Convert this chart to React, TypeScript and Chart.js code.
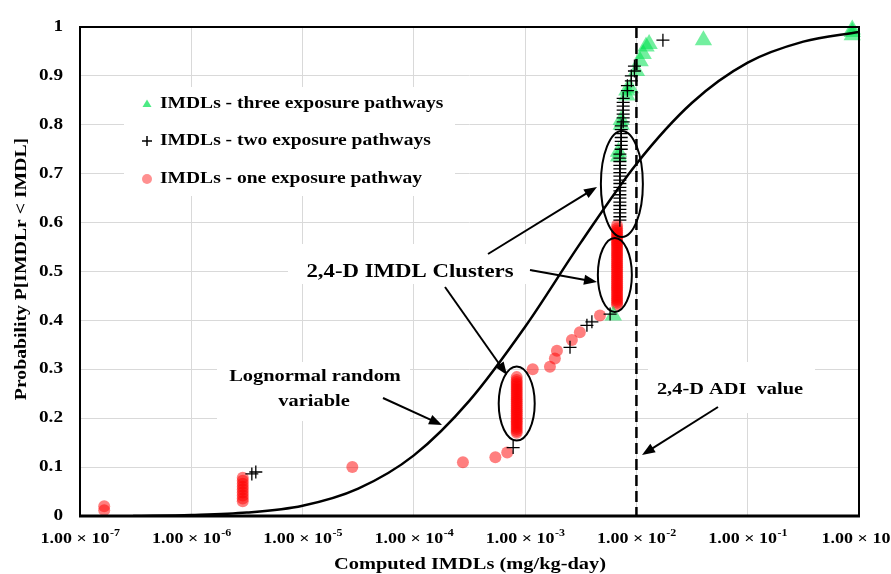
import React, { useEffect, useRef } from "react";
import { Chart, registerables } from "chart.js";
Chart.register(...registerables);

// ---- axis ticks ----
const xTickValues = [1e-7, 1e-6, 1e-5, 1e-4, 1e-3, 1e-2, 1e-1, 1];
const xTickExponents = ["-7", "-6", "-5", "-4", "-3", "-2", "-1", "0"];
const yTickValues = [0, 0.1, 0.2, 0.3, 0.4, 0.5, 0.6, 0.7, 0.8, 0.9, 1];
const yTickLabels = ["0", "0.1", "0.2", "0.3", "0.4", "0.5", "0.6", "0.7", "0.8", "0.9", "1"];

// ---- lognormal CDF curve ----
const curveX = [3e-7, 1e-6, 3.16e-6, 1e-5, 3.16e-5, 1e-4, 3.16e-4, 1e-3, 3.16e-3, 1e-2, 3.16e-2, 1e-1, 3.16e-1, 1];
const curveP = [0.0, 0.002, 0.007, 0.021, 0.056, 0.124, 0.236, 0.387, 0.559, 0.72, 0.845, 0.927, 0.97, 0.99];

// ---- IMDLs - one exposure pathway ----
const oneX = [
  1.65e-7, 1.65e-7,
  2.9e-6, 2.9e-6, 2.9e-6, 2.9e-6, 2.9e-6, 2.9e-6, 2.9e-6, 2.9e-6, 2.9e-6,
  2.8e-5, 2.76e-4, 5.4e-4, 6.9e-4,
  8.4e-4, 8.4e-4, 8.4e-4, 8.4e-4, 8.4e-4, 8.4e-4, 8.4e-4, 8.4e-4, 8.4e-4, 8.4e-4, 8.4e-4, 8.4e-4, 8.4e-4, 8.4e-4, 8.4e-4,
  8.4e-4, 8.4e-4, 8.4e-4, 8.4e-4, 8.4e-4, 8.4e-4, 8.4e-4, 8.4e-4, 8.4e-4, 8.4e-4, 8.4e-4, 8.4e-4, 8.4e-4, 8.4e-4,
  1.17e-3, 1.67e-3, 1.85e-3, 1.93e-3, 2.63e-3, 3.1e-3, 4.7e-3,
  6.7e-3, 6.7e-3, 6.7e-3, 6.7e-3, 6.7e-3, 6.7e-3, 6.7e-3, 6.7e-3, 6.7e-3, 6.7e-3, 6.7e-3,
  6.7e-3, 6.7e-3, 6.7e-3, 6.7e-3, 6.7e-3, 6.7e-3, 6.7e-3, 6.7e-3, 6.7e-3, 6.7e-3,
  6.7e-3, 6.7e-3, 6.7e-3, 6.7e-3, 6.7e-3, 6.7e-3, 6.7e-3, 6.7e-3, 6.7e-3, 6.7e-3,
  6.7e-3, 6.7e-3, 6.7e-3, 6.7e-3, 6.7e-3, 6.7e-3, 6.7e-3, 6.7e-3, 6.7e-3, 6.7e-3,
];
const oneP = [
  0.012, 0.02,
  0.03, 0.036, 0.042, 0.048, 0.054, 0.06, 0.066, 0.072, 0.078,
  0.1, 0.11, 0.12, 0.13,
  0.17, 0.174, 0.178, 0.182, 0.186, 0.19, 0.194, 0.198, 0.202, 0.206, 0.21, 0.214, 0.218, 0.222, 0.226,
  0.23, 0.234, 0.238, 0.242, 0.246, 0.25, 0.254, 0.258, 0.262, 0.266, 0.27, 0.274, 0.278, 0.284,
  0.3, 0.305, 0.322, 0.338, 0.36, 0.376, 0.41,
  0.432, 0.436, 0.44, 0.444, 0.448, 0.452, 0.456, 0.46, 0.464, 0.468, 0.472,
  0.476, 0.48, 0.484, 0.488, 0.492, 0.496, 0.5, 0.504, 0.508, 0.512,
  0.516, 0.52, 0.524, 0.528, 0.532, 0.536, 0.54, 0.544, 0.548, 0.552,
  0.556, 0.56, 0.564, 0.568, 0.572, 0.576, 0.58, 0.584, 0.588, 0.594,
];

// ---- IMDLs - two exposure pathways ----
const twoX = [
  3.5e-6, 3.8e-6, 7.8e-4, 2.53e-3, 3.59e-3, 3.98e-3, 5.8e-3,
  7.1e-3, 7.1e-3, 7.1e-3, 7.1e-3, 7.1e-3, 7.1e-3, 7.1e-3, 7.1e-3, 7.1e-3, 7.1e-3,
  7.1e-3, 7.1e-3, 7.1e-3, 7.1e-3, 7.1e-3, 7.1e-3, 7.1e-3, 7.1e-3, 7.1e-3,
  7.3e-3, 7.3e-3, 7.3e-3, 7.3e-3, 7.3e-3, 7.3e-3, 7.3e-3,
  7.6e-3, 7.6e-3, 7.6e-3, 7.6e-3, 7.6e-3, 7.6e-3, 7.6e-3,
  8.3e-3, 8.3e-3, 9.0e-3, 9.0e-3, 9.6e-3, 9.6e-3,
  1.73e-2,
];
const twoP = [
  0.086, 0.09, 0.14, 0.345, 0.39, 0.397, 0.413,
  0.605, 0.612, 0.62, 0.627, 0.635, 0.642, 0.65, 0.657, 0.665, 0.672,
  0.68, 0.687, 0.695, 0.702, 0.71, 0.717, 0.725, 0.732, 0.74,
  0.75, 0.758, 0.766, 0.774, 0.782, 0.79, 0.798,
  0.806, 0.814, 0.822, 0.83, 0.838, 0.846, 0.854,
  0.87, 0.88, 0.89, 0.9, 0.91, 0.92,
  0.973,
];

// ---- IMDLs - three exposure pathways ----
const threeX = [6.2e-3, 6.9e-3, 6.9e-3, 7.3e-3, 7.3e-3, 8.2e-3, 8.2e-3, 8.8e-3, 1.0e-2, 1.08e-2, 1.15e-2, 1.22e-2, 1.3e-2, 4.0e-2, 0.87, 0.87, 0.87];
const threeP = [0.41, 0.735, 0.745, 0.8, 0.81, 0.86, 0.87, 0.875, 0.91, 0.93, 0.945, 0.96, 0.965, 0.973, 0.983, 0.99, 0.995];

const ADI_VALUE = 1e-2;

const FONT = '"Liberation Serif", "Times New Roman", serif';
const SX = 1.2;

function txt(ctx: CanvasRenderingContext2D, s: string, x: number, y: number, size: number, align: CanvasTextAlign = "center", sx = SX, rot = 0) {
  ctx.save();
  ctx.translate(x, y);
  ctx.rotate(rot);
  ctx.scale(sx, 1);
  ctx.font = `bold ${size}px ${FONT}`;
  ctx.fillStyle = "#000";
  ctx.textAlign = align;
  ctx.textBaseline = "middle";
  ctx.fillText(s, 0, 0);
  ctx.restore();
}

function arrow(ctx: CanvasRenderingContext2D, x1: number, y1: number, x2: number, y2: number) {
  const a = Math.atan2(y2 - y1, x2 - x1);
  const L = 13, W = 5;
  ctx.save();
  ctx.strokeStyle = "#000";
  ctx.fillStyle = "#000";
  ctx.lineWidth = 2;
  ctx.beginPath();
  ctx.moveTo(x1, y1);
  ctx.lineTo(x2 - L * 0.8 * Math.cos(a), y2 - L * 0.8 * Math.sin(a));
  ctx.stroke();
  ctx.beginPath();
  ctx.moveTo(x2, y2);
  ctx.lineTo(x2 - L * Math.cos(a) + W * Math.sin(a), y2 - L * Math.sin(a) - W * Math.cos(a));
  ctx.lineTo(x2 - L * Math.cos(a) - W * Math.sin(a), y2 - L * Math.sin(a) + W * Math.cos(a));
  ctx.closePath();
  ctx.fill();
  ctx.restore();
}

const decorPlugin = {
  id: "decor",
  beforeDatasetsDraw(chart: any) {
    const ctx = chart.ctx as CanvasRenderingContext2D;
    ctx.save();
    ctx.fillStyle = "#fff";
    // white backgrounds behind legend and text annotations
    ctx.fillRect(124, 87, 331, 109);
    ctx.fillRect(288, 244, 244, 40);
    ctx.fillRect(217, 362, 193, 59);
    ctx.fillRect(648, 362, 167, 51);
    ctx.restore();
  },
  afterDatasetsDraw(chart: any) {
    const ctx = chart.ctx as CanvasRenderingContext2D;
    const xs = chart.scales.x;
    const ys = chart.scales.y;
    const ca = chart.chartArea;

    // dashed ADI line
    ctx.save();
    ctx.strokeStyle = "#000";
    ctx.lineWidth = 2.5;
    ctx.setLineDash([11, 5]);
    const ax = xs.getPixelForValue(ADI_VALUE);
    ctx.beginPath();
    ctx.moveTo(ax, ca.top);
    ctx.lineTo(ax, ca.bottom);
    ctx.stroke();
    ctx.restore();

    // plot border
    ctx.save();
    ctx.strokeStyle = "#000";
    ctx.lineWidth = 2;
    ctx.strokeRect(ca.left, ca.top, ca.right - ca.left, ca.bottom - ca.top);
    ctx.lineWidth = 3;
    ctx.beginPath();
    ctx.moveTo(ca.left - 1, ca.bottom);
    ctx.lineTo(ca.right + 1, ca.bottom);
    ctx.stroke();
    ctx.restore();

    // ellipses around clusters
    const ell = (xv: number, pv: number, rx: number, ry: number) => {
      ctx.save();
      ctx.strokeStyle = "#000";
      ctx.lineWidth = 2;
      ctx.beginPath();
      ctx.ellipse(xs.getPixelForValue(xv), ys.getPixelForValue(pv), rx, ry, 0, 0, Math.PI * 2);
      ctx.stroke();
      ctx.restore();
    };
    ell(8.4e-4, 0.23, 18, 37);
    ell(7.4e-3, 0.679, 21, 53);
    ell(6.4e-3, 0.493, 17, 37);

    // arrows
    arrow(ctx, 383, 398, 442, 425);
    arrow(ctx, 445, 287, 507, 375);
    arrow(ctx, 488, 254, 597, 187);
    arrow(ctx, 530, 270, 597, 282);
    arrow(ctx, 718, 407, 642, 455);

    // annotation texts
    txt(ctx, "2,4-D IMDL Clusters", 410, 272, 19);
    txt(ctx, "Lognormal random", 315, 377, 17);
    txt(ctx, "variable", 314, 402, 17);
    txt(ctx, "2,4-D ADI  value", 730, 390, 17);

    // legend
    const lx = 147;
    const ly = [104, 141, 179];
    ctx.save();
    ctx.fillStyle = "rgba(0,225,80,0.7)";
    ctx.beginPath();
    ctx.moveTo(lx, ly[0] - 4.5);
    ctx.lineTo(lx + 4.5, ly[0] + 3);
    ctx.lineTo(lx - 4.5, ly[0] + 3);
    ctx.closePath();
    ctx.fill();
    ctx.strokeStyle = "#000";
    ctx.lineWidth = 1.5;
    ctx.beginPath();
    ctx.moveTo(lx - 5, ly[1]);
    ctx.lineTo(lx + 5, ly[1]);
    ctx.moveTo(lx, ly[1] - 5);
    ctx.lineTo(lx, ly[1] + 5);
    ctx.stroke();
    ctx.fillStyle = "rgba(255,70,70,0.6)";
    ctx.beginPath();
    ctx.arc(lx, ly[2], 5, 0, Math.PI * 2);
    ctx.fill();
    ctx.restore();
    txt(ctx, "IMDLs - three exposure pathways", 160, ly[0], 16, "left", 1.22);
    txt(ctx, "IMDLs - two exposure pathways", 160, ly[1], 16, "left", 1.22);
    txt(ctx, "IMDLs - one exposure pathway", 160, ly[2], 16, "left", 1.22);
  },
  afterDraw(chart: any) {
    const ctx = chart.ctx as CanvasRenderingContext2D;
    const xs = chart.scales.x;
    const ys = chart.scales.y;
    // y tick labels
    yTickValues.forEach((v, i) => {
      txt(ctx, yTickLabels[i], 63, ys.getPixelForValue(v), 16, "right");
    });
    // x tick labels with superscript exponent
    xTickValues.forEach((v, i) => {
      const px = xs.getPixelForValue(v);
      ctx.save();
      ctx.font = `bold 15px ${FONT}`;
      const w1 = ctx.measureText("1.00 \u00d7 10").width * SX;
      ctx.font = `bold 10px ${FONT}`;
      const w2 = ctx.measureText(xTickExponents[i]).width * SX;
      ctx.restore();
      const start = px - (w1 + w2) / 2;
      txt(ctx, "1.00 \u00d7 10", start, 539, 15, "left");
      txt(ctx, xTickExponents[i], start + w1 + 0.5, 533, 10, "left");
    });
    // axis titles
    txt(ctx, "Computed IMDLs (mg/kg-day)", 470, 565, 17);
    txt(ctx, "Probability P[IMDLr < IMDL]", 22, 269, 17, "center", 1.16, -Math.PI / 2);
  },
};

export default function App() {
  const ref = useRef<HTMLCanvasElement>(null);
  useEffect(() => {
    if (!ref.current) return;
    const chart = new Chart(ref.current, {
      type: "scatter",
      data: {
        datasets: [
          {
            type: "line",
            label: "Lognormal random variable",
            data: curveX.map((x, i) => ({ x, y: curveP[i] })),
            showLine: true,
            borderColor: "#000",
            borderWidth: 2.5,
            pointRadius: 0,
            cubicInterpolationMode: "monotone",
            fill: false,
            order: 0,
          } as any,
          {
            label: "IMDLs - two exposure pathways",
            data: twoX.map((x, i) => ({ x, y: twoP[i] })),
            pointStyle: "cross",
            pointRadius: 6.5,
            borderColor: "#000",
            borderWidth: 1.3,
            backgroundColor: "#000",
            clip: false,
            order: 1,
          },
          {
            label: "IMDLs - three exposure pathways",
            data: threeX.map((x, i) => ({ x, y: threeP[i] })),
            pointStyle: "triangle",
            pointRadius: 10,
            borderWidth: 0,
            backgroundColor: "rgba(0,225,80,0.55)",
            clip: false,
            order: 2,
          },
          {
            label: "IMDLs - one exposure pathway",
            data: oneX.map((x, i) => ({ x, y: oneP[i] })),
            pointStyle: "circle",
            pointRadius: 6,
            borderWidth: 0,
            backgroundColor: "rgba(255,0,0,0.5)",
            clip: false,
            order: 3,
          },
        ],
      },
      options: {
        animation: false,
        responsive: false,
        events: [],
        layout: { padding: { left: 0, right: 32, top: 27, bottom: 0 } },
        plugins: { legend: { display: false }, tooltip: { enabled: false } },
        scales: {
          x: {
            type: "logarithmic",
            min: 1e-7,
            max: 1,
            afterBuildTicks: (s: any) => {
              s.ticks = xTickValues.map((v) => ({ value: v }));
            },
            afterFit: (s: any) => {
              s.height = 58;
            },
            ticks: { display: false },
            grid: { color: "#d9d9d9", lineWidth: 1, drawTicks: false },
            border: { display: false },
          },
          y: {
            type: "linear",
            min: 0,
            max: 1,
            afterBuildTicks: (s: any) => {
              s.ticks = yTickValues.map((v) => ({ value: v }));
            },
            afterFit: (s: any) => {
              s.width = 80;
            },
            ticks: { display: false },
            grid: { color: "#d9d9d9", lineWidth: 1, drawTicks: false },
            border: { display: false },
          },
        },
      } as any,
      plugins: [decorPlugin],
    });
    return () => chart.destroy();
  }, []);
  return (
    <div style={{ position: "fixed", left: 0, top: 0, width: 891, height: 574, background: "#fff" }}>
      <canvas ref={ref} width={891} height={574} style={{ display: "block" }} />
    </div>
  );
}
